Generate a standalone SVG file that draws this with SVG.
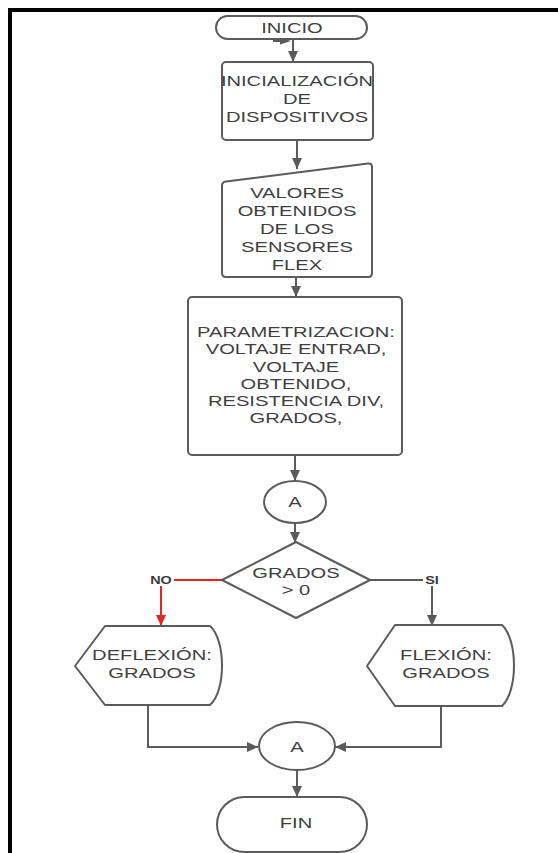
<svg xmlns="http://www.w3.org/2000/svg" width="558" height="853" viewBox="0 0 558 853">
<style>
.shape{fill:#ffffff;stroke:#5b5b5b;stroke-width:2;stroke-linejoin:round}
.lbl{font-family:"Liberation Sans",Arial,sans-serif;font-size:14px;fill:#3f3f3f;text-anchor:middle}
.tag{font-family:"Liberation Sans",Arial,sans-serif;font-size:10px;font-weight:bold;fill:#3a3a3a;text-anchor:middle}
.ln{fill:none;stroke:#5b5b5b;stroke-width:2}
.red{fill:none;stroke:#e3261f;stroke-width:2}
</style>
<defs>
<marker id="ah" markerUnits="userSpaceOnUse" markerWidth="12" markerHeight="10" refX="11" refY="5" orient="auto">
<path d="M0,0 L11,5 L0,10 Z" fill="#5b5b5b"/>
</marker>
<marker id="ahr" markerUnits="userSpaceOnUse" markerWidth="12" markerHeight="10" refX="11" refY="5" orient="auto">
<path d="M0,0 L11,5 L0,10 Z" fill="#e3261f"/>
</marker>
</defs>
<rect x="0" y="0" width="558" height="853" fill="#ffffff"/>
<path d="M10,853 V10 H558" fill="none" stroke="#000000" stroke-width="4"/>

<g id="connectors">
<line class="ln" x1="273" y1="41" x2="284" y2="41"/>
<polygon points="280,37.5 291,41 280,44.5" fill="#5b5b5b"/>
<line class="ln" x1="293" y1="39" x2="293" y2="62" marker-end="url(#ah)"/>
<line class="ln" x1="297" y1="140" x2="297" y2="169" marker-end="url(#ah)"/>
<line class="ln" x1="296" y1="277" x2="296" y2="297" marker-end="url(#ah)"/>
<line class="ln" x1="295" y1="455" x2="295" y2="481" marker-end="url(#ah)"/>
<line class="ln" x1="295" y1="523" x2="295" y2="543" marker-end="url(#ah)"/>
<line class="red" x1="222" y1="580" x2="174" y2="580"/>
<line class="red" x1="161" y1="586" x2="161" y2="626" marker-end="url(#ahr)"/>
<line class="ln" x1="370" y1="580" x2="423" y2="580"/>
<line class="ln" x1="432" y1="586" x2="432" y2="626" marker-end="url(#ah)"/>
<path class="ln" d="M148,705 V747 H258" marker-end="url(#ah)"/>
<path class="ln" d="M441,706 V747 H335" marker-end="url(#ah)"/>
<line class="ln" x1="297" y1="770" x2="297" y2="797" marker-end="url(#ah)"/>
<text class="tag" transform="translate(161,584) scale(1.44,1)">NO</text>
<text class="tag" transform="translate(432,584) scale(1.44,1)">SI</text>
</g>

<g id="inicio">
<rect class="shape" x="216" y="16" width="151" height="23" rx="11.5"/>
<text class="lbl" transform="translate(292,33) scale(1.44,1)">INICIO</text>
</g>

<g id="inicializacion">
<rect class="shape" x="222" y="62" width="151" height="78" rx="4"/>
<text class="lbl" transform="translate(297,86) scale(1.44,1)"><tspan x="0" y="0">INICIALIZACIÓN</tspan><tspan x="0" y="18">DE</tspan><tspan x="0" y="36">DISPOSITIVOS</tspan></text>
</g>

<g id="valores">
<path class="shape" d="M226,181.5 L368,163.5 Q372,163 372,167 L372,273 Q372,277 368,277 L226,277 Q222,277 222,273 L222,186 Q222,182 226,181.5 Z"/>
<text class="lbl" transform="translate(297,198) scale(1.44,1)"><tspan x="0" y="0">VALORES</tspan><tspan x="0" y="18">OBTENIDOS</tspan><tspan x="0" y="36">DE LOS</tspan><tspan x="0" y="54">SENSORES</tspan><tspan x="0" y="72">FLEX</tspan></text>
</g>

<g id="parametrizacion">
<rect class="shape" x="188" y="297" width="214" height="158" rx="4"/>
<text class="lbl" transform="translate(296,337) scale(1.44,1)"><tspan x="0" y="0">PARAMETRIZACION:</tspan><tspan x="0" y="17.3">VOLTAJE ENTRAD,</tspan><tspan x="0" y="34.6">VOLTAJE</tspan><tspan x="0" y="51.9">OBTENIDO,</tspan><tspan x="0" y="69.2">RESISTENCIA DIV,</tspan><tspan x="0" y="86.5">GRADOS,</tspan></text>
</g>

<g id="conector-a1">
<ellipse class="shape" cx="295" cy="502" rx="31" ry="21"/>
<text class="lbl" transform="translate(295,507) scale(1.44,1)">A</text>
</g>

<g id="decision">
<path class="shape" d="M296,542 L370,580 L296,618 L222,580 Z"/>
<text class="lbl" transform="translate(296,578) scale(1.44,1)"><tspan x="0" y="0">GRADOS</tspan><tspan x="0" y="17">&gt; 0</tspan></text>
</g>

<g id="deflexion">
<path class="shape" d="M105,626 L210,626 C226,640 226,691 210,705 L105,705 L75,666 Z"/>
<text class="lbl" transform="translate(152,660) scale(1.44,1)"><tspan x="0" y="0">DEFLEXIÓN:</tspan><tspan x="0" y="18">GRADOS</tspan></text>
</g>

<g id="flexion">
<path class="shape" d="M395,625 L502,625 C518,640 518,691 502,706 L395,706 L367,666 Z"/>
<text class="lbl" transform="translate(446,660) scale(1.44,1)"><tspan x="0" y="0">FLEXIÓN:</tspan><tspan x="0" y="18">GRADOS</tspan></text>
</g>

<g id="conector-a2">
<ellipse class="shape" cx="297" cy="746" rx="38" ry="24"/>
<text class="lbl" transform="translate(297,752) scale(1.44,1)">A</text>
</g>

<g id="fin">
<rect class="shape" x="217" y="797" width="150" height="55" rx="27.5"/>
<text class="lbl" transform="translate(296,828) scale(1.44,1)">FIN</text>
</g>
</svg>
